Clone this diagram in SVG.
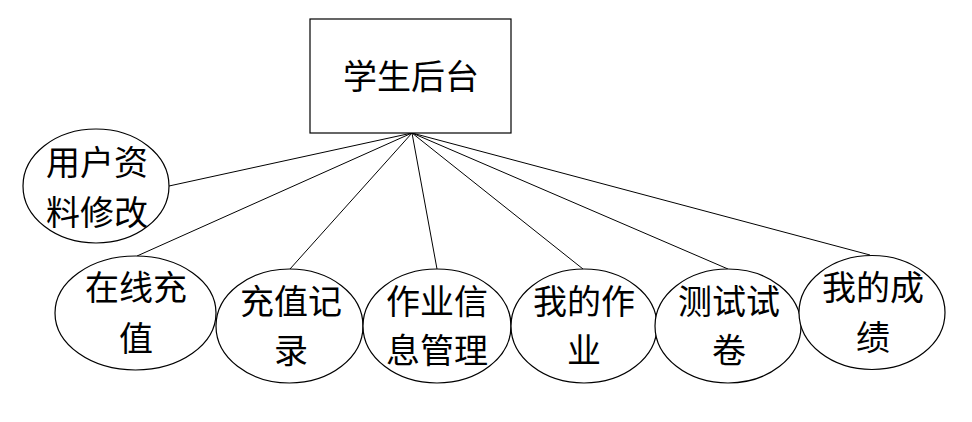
<svg xmlns="http://www.w3.org/2000/svg" width="972" height="422" viewBox="0 0 972 422">
<style>
.n{fill:#fff;stroke:#000;stroke-width:1.2}
.t{font-family:"Noto Sans CJK SC","Liberation Sans",sans-serif;font-size:34px;fill:#000;text-anchor:middle}
.c{stroke:#000;stroke-width:1;fill:none}
</style>
<rect width="972" height="422" fill="#fff"/>
<g id="connectors">
<line class="c" x1="412" y1="133" x2="169" y2="186"/>
<line class="c" x1="412" y1="133" x2="137" y2="256"/>
<line class="c" x1="412" y1="133" x2="290" y2="269"/>
<line class="c" x1="412" y1="133" x2="437" y2="269"/>
<line class="c" x1="412" y1="133" x2="583" y2="269"/>
<line class="c" x1="412" y1="133" x2="728" y2="269"/>
<line class="c" x1="412" y1="133" x2="870" y2="255"/>
</g>
<g id="root">
<rect class="n" x="310" y="19" width="201" height="114"/>
<text class="t" x="411" y="89">学生后台</text>
</g>
<g id="n1">
<ellipse class="n" cx="96" cy="186" rx="73" ry="57"/>
<text class="t" x="97" y="175">用户资</text>
<text class="t" x="97" y="225">料修改</text>
</g>
<g id="n2">
<ellipse class="n" cx="135.5" cy="313" rx="80.5" ry="57"/>
<text class="t" x="136" y="300">在线充</text>
<text class="t" x="136" y="351">值</text>
</g>
<g id="n3">
<ellipse class="n" cx="289.5" cy="326" rx="73.5" ry="57"/>
<text class="t" x="291" y="314">充值记</text>
<text class="t" x="291" y="363">录</text>
</g>
<g id="n4">
<ellipse class="n" cx="437" cy="326" rx="74" ry="57"/>
<text class="t" x="437" y="314">作业信</text>
<text class="t" x="437" y="363">息管理</text>
</g>
<g id="n5">
<ellipse class="n" cx="584" cy="326" rx="73" ry="57"/>
<text class="t" x="584" y="314">我的作</text>
<text class="t" x="584" y="363">业</text>
</g>
<g id="n6">
<ellipse class="n" cx="728" cy="326" rx="73" ry="57"/>
<text class="t" x="729" y="314">测试试</text>
<text class="t" x="729" y="363">卷</text>
</g>
<g id="n7">
<ellipse class="n" cx="872" cy="312.5" rx="73" ry="57"/>
<text class="t" x="873" y="300">我的成</text>
<text class="t" x="873" y="350">绩</text>
</g>
</svg>
